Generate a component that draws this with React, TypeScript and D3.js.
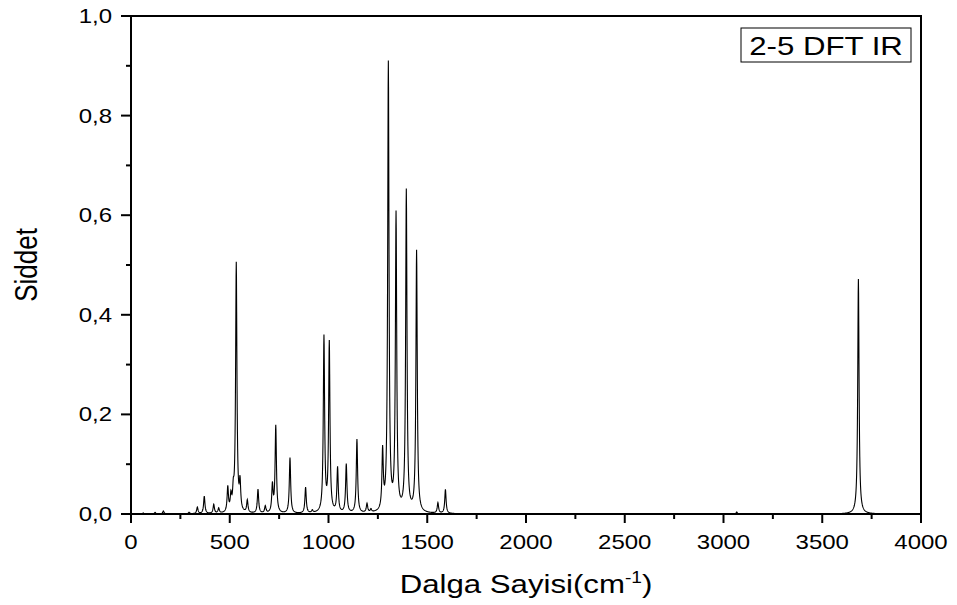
import React from "react";
import * as d3 from "d3";

// calculated IR bands (cm-1) and their peak intensity
const peakPositions = [
  62, 122, 164, 294, 336, 371, 419, 444, 490, 506, 518, 533, 552, 589, 643, 680,
  716, 733, 805, 884, 918, 977, 1004, 1046, 1090, 1144, 1195, 1215, 1274, 1303,
  1342, 1394, 1446, 1554, 1592, 3067, 3683,
];
const peakIntensities = [
  0.002, 0.003, 0.006, 0.003, 0.013, 0.035, 0.018, 0.01, 0.05, 0.03, 0.035, 0.5,
  0.055, 0.025, 0.048, 0.014, 0.055, 0.175, 0.112, 0.052, 0.005, 0.352, 0.34,
  0.09, 0.098, 0.148, 0.018, 0.006, 0.118, 0.9, 0.595, 0.645, 0.525, 0.021, 0.048,
  0.004, 0.472,
];
const halfWidth = 4; // lorentzian HWHM used for broadening

const xTicks = [0, 500, 1000, 1500, 2000, 2500, 3000, 3500, 4000];
const yTicks = [0, 0.2, 0.4, 0.6, 0.8, 1.0];
const xMinor = [250, 750, 1250, 1750, 2250, 2750, 3250, 3750];
const yMinor = [0.1, 0.3, 0.5, 0.7, 0.9];

const legendLabel = "2-5 DFT IR";

const W = 957;
const H = 605;
const m = { left: 131, right: 36, top: 16, bottom: 91 };
const font = "'Liberation Sans', Arial, sans-serif";
const sx = 1.2; // the original is stretched horizontally

export default function App() {
  const x = d3.scaleLinear().domain([0, 4000]).range([m.left, W - m.right]);
  const y = d3.scaleLinear().domain([0, 1]).range([H - m.bottom, m.top]);

  // spectrum = sum of lorentzian bands
  const grid = d3.range(0, 4000.5, 1);
  const spectrum = grid.map((w) => {
    let s = 0;
    peakPositions.forEach((p, i) => {
      const d = (w - p) / halfWidth;
      s += peakIntensities[i] / (1 + d * d);
    });
    return [w, s] as [number, number];
  });

  const line = d3
    .line<[number, number]>()
    .x((d) => x(d[0]))
    .y((d) => y(d[1]));

  const x0 = x(0);
  const x1 = x(4000);
  const y0 = y(0);
  const y1 = y(1);

  return (
    <svg
      width={W}
      height={H}
      style={{ position: "absolute", left: 0, top: 0, background: "#fff" }}
    >
      <path d={line(spectrum) || ""} fill="none" stroke="#000" strokeWidth={1.1} />

      {/* frame */}
      <rect
        x={x0}
        y={y1}
        width={x1 - x0}
        height={y0 - y1}
        fill="none"
        stroke="#000"
        strokeWidth={2}
      />

      {/* x ticks */}
      {xTicks.map((t) => (
        <g key={"x" + t}>
          <line x1={x(t)} x2={x(t)} y1={y0} y2={y0 + 9} stroke="#000" strokeWidth={2} />
          <text
            transform={`translate(${x(t)},${y0 + 35}) scale(${sx},1)`}
            textAnchor="middle"
            fontFamily={font}
            fontSize={20}
          >
            {t}
          </text>
        </g>
      ))}
      {xMinor.map((t) => (
        <line key={"xm" + t} x1={x(t)} x2={x(t)} y1={y0} y2={y0 + 5} stroke="#000" strokeWidth={2} />
      ))}

      {/* y ticks */}
      {yTicks.map((t) => (
        <g key={"y" + t}>
          <line x1={x0 - 10} x2={x0} y1={y(t)} y2={y(t)} stroke="#000" strokeWidth={2} />
          <text
            transform={`translate(${x0 - 19},${y(t) + 7}) scale(${sx},1)`}
            textAnchor="end"
            fontFamily={font}
            fontSize={20}
          >
            {t.toFixed(1).replace(".", ",")}
          </text>
        </g>
      ))}
      {yMinor.map((t) => (
        <line key={"ym" + t} x1={x0 - 5} x2={x0} y1={y(t)} y2={y(t)} stroke="#000" strokeWidth={2} />
      ))}

      {/* axis titles */}
      <text
        transform={`translate(${(x0 + x1) / 2},593) scale(${sx},1)`}
        textAnchor="middle"
        fontFamily={font}
        fontSize={26}
      >
        Dalga Sayisi(cm
        <tspan fontSize={16} dy={-10}>-1</tspan>
        <tspan dy={10}>)</tspan>
      </text>
      <text
        transform={`translate(37,${(y0 + y1) / 2}) scale(${sx},1) rotate(-90)`}
        textAnchor="middle"
        fontFamily={font}
        fontSize={26}
      >
        Siddet
      </text>

      {/* legend */}
      <rect x={741} y={28} width={170} height={34} fill="#fff" stroke="#000" strokeWidth={1} />
      <text
        transform={`translate(826,55) scale(${sx},1)`}
        textAnchor="middle"
        fontFamily={font}
        fontSize={26}
      >
        {legendLabel}
      </text>
    </svg>
  );
}
